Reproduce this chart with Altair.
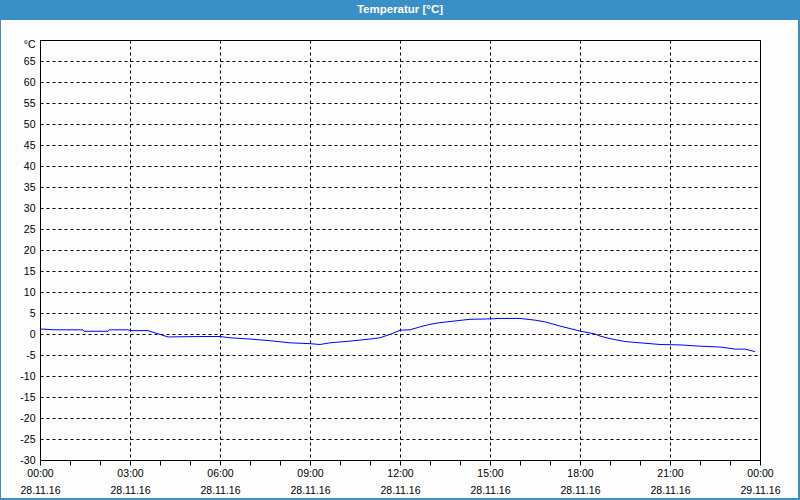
import altair as alt
import pandas as pd

# Temperature readings (hours since 28.11.16 00:00, °C)
hours = [0, 0.5, 1.43, 1.47, 2.27, 2.3, 2.93, 3.0, 3.6, 4.0,
         4.27, 5.33, 6.0, 6.33, 7.0, 7.67, 8.33, 9.0, 9.33, 9.67,
         10.33, 11.0, 11.33, 11.67, 12.0, 12.33, 12.67, 13.0, 13.33, 13.83,
         14.33, 15.0, 15.33, 16.0, 16.5, 16.83, 17.33, 18.0, 18.5, 18.67,
         19.0, 19.5, 20.0, 20.67, 21.33, 22.0, 22.67, 23.17, 23.5, 23.83]
temps = [1.2, 1.0, 1.0, 0.65, 0.65, 1.0, 1.0, 0.8, 0.8, -0.1,
         -0.7, -0.6, -0.6, -0.9, -1.2, -1.6, -2.1, -2.3, -2.5, -2.1,
         -1.7, -1.2, -0.9, -0.1, 0.9, 1.0, 1.7, 2.3, 2.7, 3.1,
         3.5, 3.6, 3.7, 3.7, 3.3, 2.9, 1.9, 0.7, 0.0, -0.5,
         -1.1, -1.8, -2.1, -2.5, -2.6, -2.9, -3.1, -3.6, -3.6, -4.2]

tick_hours = [0, 3, 6, 9, 12, 15, 18, 21, 24]
tick_times = ["00:00", "03:00", "06:00", "09:00", "12:00", "15:00", "18:00", "21:00", "00:00"]
tick_dates = ["28.11.16", "28.11.16", "28.11.16", "28.11.16", "28.11.16",
              "28.11.16", "28.11.16", "28.11.16", "29.11.16"]
y_ticks = list(range(-30, 75, 5))
y_unit_label = "°C"
title_text = "Temperatur [°C]"

BLUE = "#3b8fc7"
BG = "#fcfdfc"

df = pd.DataFrame({"h": hours, "t": temps})

# label expression built from the tick label lists
expr = "''"
for h, tm, dt in reversed(list(zip(tick_hours, tick_times, tick_dates))):
    expr = f"datum.value === {h} ? ['{tm}', '{dt}'] : ({expr})"

x_axis = alt.Axis(
    values=list(range(0, 25)),
    labelExpr=expr,
    labelOverlap=False,
    labelFlush=False,
    labelPadding=3,
    labelLineHeight=17,
    labelBaseline="top",
    grid=True,
    gridColor="black",
    gridDash=[3, 3],
    gridOpacity={"condition": {"test": "datum.value % 3 === 0", "value": 1}, "value": 0},
    ticks=True,
    tickSize=5,
    tickColor="black",
    domain=False,
    title=None,
)

y_axis = alt.Axis(
    values=y_ticks,
    labelExpr=f"datum.value === 70 ? '{y_unit_label}' : datum.value",
    labelOffset={"condition": {"test": "datum.value === 70", "value": 4}, "value": 0},
    labelPadding=5,
    grid=True,
    gridColor="black",
    gridDash=[3, 3],
    gridOpacity={"condition": {"test": "datum.value === 70 || datum.value === -30", "value": 0}, "value": 1},
    ticks=False,
    domain=False,
    title=None,
)

line = alt.Chart(df).mark_line(color="#0000ff", strokeWidth=1).encode(
    x=alt.X("h:Q", scale=alt.Scale(domain=[0, 24], nice=False, zero=False), axis=x_axis),
    y=alt.Y("t:Q", scale=alt.Scale(domain=[-30, 70], nice=False, zero=False), axis=y_axis),
)

one = pd.DataFrame({"d": [0]})

title_band = alt.Chart(one).mark_rect(color=BLUE).encode(
    x=alt.value(-40), x2=alt.value(760), y=alt.value(-40), y2=alt.value(-20)
)
left_border = alt.Chart(one).mark_rect(color=BLUE).encode(
    x=alt.value(-40), x2=alt.value(-39), y=alt.value(-40), y2=alt.value(460)
)
right_border = alt.Chart(one).mark_rect(color=BLUE).encode(
    x=alt.value(758), x2=alt.value(760), y=alt.value(-40), y2=alt.value(460)
)
bottom_border = alt.Chart(one).mark_rect(color=BLUE).encode(
    x=alt.value(-40), x2=alt.value(760), y=alt.value(458), y2=alt.value(460)
)
title = alt.Chart(pd.DataFrame({"txt": [title_text]})).mark_text(
    font="Liberation Sans", fontSize=11.5, fontWeight="bold", color="white",
    align="center", baseline="middle"
).encode(x=alt.value(360), y=alt.value(-30), text="txt:N")

chart = alt.layer(
    line, title_band, left_border, right_border, bottom_border, title
).properties(
    width=720,
    height=420,
    autosize="none",
    padding={"left": 40, "top": 40, "right": 40, "bottom": 40},
).configure(
    background=BG
).configure_view(
    stroke="black", strokeWidth=1, fill=BG
).configure_axis(
    labelFont="Liberation Sans", labelFontSize=10.5, labelColor="black"
)

chart.save("out.html", embed_options={"renderer": "svg", "actions": False})
